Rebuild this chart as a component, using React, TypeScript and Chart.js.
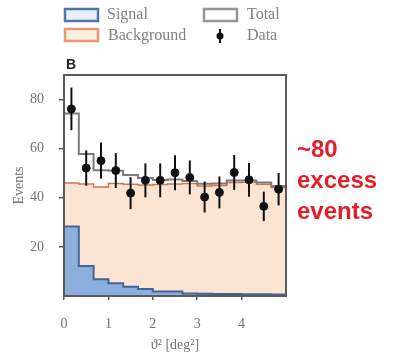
import React, { useEffect, useRef } from "react";
import { Chart, registerables } from "chart.js";

Chart.register(...registerables);

// Histogram binning in theta^2 (deg^2)
const BIN_WIDTH = 1 / 3;
const X_MAX = 5;

// Expected signal counts per bin
const signalCounts = [28.3, 12.2, 6.8, 5.2, 3.8, 2.9, 1.8, 1.8, 1.0, 0.9, 0.8, 0.8, 0.7, 0.7, 0.6];
// Expected background counts per bin
const backgroundCounts = [46.0, 45.6, 44.4, 45.8, 45.5, 45.2, 45.4, 45.6, 45.8, 44.8, 45.0, 46.2, 46.3, 45.5, 44.2];
// Total model (signal + background) per bin
const totalCounts = [74.3, 57.8, 51.2, 51.0, 49.3, 48.1, 47.2, 47.4, 46.8, 45.7, 45.8, 47.0, 47.0, 46.2, 44.8];
// Observed events and their uncertainties
const dataCounts = [76.2, 52.1, 55.1, 51.1, 41.9, 47.1, 47.1, 50.2, 48.3, 40.3, 42.2, 50.3, 47.3, 36.5, 43.5];
const dataErrors = [8.7, 7.2, 7.4, 7.1, 6.5, 6.9, 6.9, 7.1, 6.9, 6.3, 6.5, 7.1, 6.9, 6.0, 6.6];

const xTickLabels = ["0", "1", "2", "3", "4"];
const yTickValues = [20, 40, 60, 80];

const panelLabel = "B";
const annotationLines = ["~80", "excess", "events"];

const SERIF = '"Liberation Serif", "DejaVu Serif", serif';
const SANS = '"Liberation Sans", Arial, sans-serif';

// Step outline: one point at each bin's left edge plus the closing right edge;
// drawn with stepped "before" so each value is held across its own bin.
function toSteps(counts: number[]) {
  const pts = counts.map((v, i) => ({ x: i * BIN_WIDTH, y: v }));
  pts.push({ x: counts.length * BIN_WIDTH, y: counts[counts.length - 1] });
  return pts;
}

const overlayPlugin = {
  id: "overlay",
  afterDatasetsDraw(chart: any) {
    const { ctx, chartArea, scales } = chart;
    const xs = scales.x;
    const ys = scales.y;

    // error bars on observed data
    ctx.save();
    ctx.strokeStyle = "#111";
    ctx.lineWidth = 2;
    dataCounts.forEach((v, i) => {
      const px = xs.getPixelForValue((i + 0.5) * BIN_WIDTH);
      const top = ys.getPixelForValue(v + dataErrors[i]);
      const bot = ys.getPixelForValue(v - dataErrors[i]);
      ctx.beginPath();
      ctx.moveTo(px, top);
      ctx.lineTo(px, bot);
      ctx.stroke();
    });
    ctx.restore();

    // frame around the plotting area
    ctx.save();
    ctx.strokeStyle = "#5a5a5a";
    ctx.lineWidth = 2;
    ctx.strokeRect(
      chartArea.left,
      chartArea.top,
      chartArea.right - chartArea.left,
      chartArea.bottom - chartArea.top
    );
    ctx.restore();
  },
  afterDraw(chart: any) {
    const { ctx, chartArea } = chart;
    ctx.save();

    // legend
    const drawBox = (x: number, y: number, stroke: string, fill: string) => {
      ctx.fillStyle = fill;
      ctx.fillRect(x, y, 33, 12);
      ctx.strokeStyle = stroke;
      ctx.lineWidth = 2.5;
      ctx.strokeRect(x, y, 33, 12);
    };
    ctx.font = `16px ${SERIF}`;
    ctx.textBaseline = "middle";
    ctx.textAlign = "left";

    drawBox(65, 9, "#5276ab", "#e8f1fa");
    drawBox(65, 29, "#e69a72", "#fdeee3");
    drawBox(204, 9, "#959595", "#ffffff");

    ctx.fillStyle = "#808080";
    ctx.fillText("Signal", 107, 15);
    ctx.fillText("Background", 108, 36);
    ctx.fillText("Total", 247, 15);
    ctx.fillText("Data", 247, 36);

    // data marker in legend
    ctx.strokeStyle = "#111";
    ctx.lineWidth = 2;
    ctx.beginPath();
    ctx.moveTo(220, 29);
    ctx.lineTo(220, 43);
    ctx.stroke();
    ctx.fillStyle = "#111";
    ctx.beginPath();
    ctx.arc(220, 36, 3.5, 0, Math.PI * 2);
    ctx.fill();

    // panel label
    ctx.font = `bold 14px ${SANS}`;
    ctx.fillStyle = "#222";
    ctx.textBaseline = "bottom";
    ctx.fillText(panelLabel, chartArea.left + 2, chartArea.top - 3);

    // excess annotation
    ctx.font = `bold 24px ${SANS}`;
    ctx.fillStyle = "#e41e26";
    ctx.textBaseline = "middle";
    const ys = [150, 181, 212];
    annotationLines.forEach((t, i) => ctx.fillText(t, 297, ys[i]));

    ctx.restore();
  },
};

export default function App() {
  const canvasRef = useRef<HTMLCanvasElement | null>(null);

  useEffect(() => {
    if (!canvasRef.current) return;
    const chart = new Chart(canvasRef.current, {
      type: "line",
      data: {
        datasets: [
          {
            label: "Data",
            data: dataCounts.map((v, i) => ({ x: (i + 0.5) * BIN_WIDTH, y: v })),
            showLine: false,
            pointRadius: 4,
            pointBackgroundColor: "#111",
            pointBorderColor: "#111",
            order: 0,
          },
          {
            label: "Total",
            data: toSteps(totalCounts),
            stepped: "before",
            borderColor: "#7b7b7b",
            borderWidth: 2,
            pointRadius: 0,
            fill: false,
            order: 1,
          },
          {
            label: "Signal",
            data: toSteps(signalCounts),
            stepped: "before",
            borderColor: "#42639c",
            borderWidth: 2,
            backgroundColor: "#8cafdc",
            pointRadius: 0,
            fill: "origin",
            order: 2,
          },
          {
            label: "Background",
            data: toSteps(backgroundCounts),
            stepped: "before",
            borderColor: "#d8704e",
            borderWidth: 1.5,
            backgroundColor: "#fbe4d2",
            pointRadius: 0,
            fill: "origin",
            order: 3,
          },
        ],
      },
      options: {
        responsive: false,
        animation: false,
        layout: { padding: { top: 75, right: 108, left: 0, bottom: 0 } },
        plugins: {
          legend: { display: false },
          tooltip: { enabled: false },
          title: { display: false },
        },
        scales: {
          x: {
            type: "linear",
            min: 0,
            max: X_MAX,
            border: { display: false },
            grid: { drawOnChartArea: false, tickLength: 4, tickColor: "#5a5a5a", lineWidth: 1.5 },
            afterBuildTicks: (scale: any) => {
              scale.ticks = xTickLabels.map((t) => ({ value: Number(t) }));
            },
            ticks: {
              padding: 16,
              color: "#747474",
              font: { family: SERIF, size: 14 },
              callback: (v: any) => String(v),
            },
            title: {
              display: true,
              text: "ϑ² [deg²]",
              color: "#747474",
              font: { family: SERIF, size: 14 },
              padding: { top: 0, bottom: 5 },
            },
            afterFit: (scale: any) => {
              scale.height = 63;
            },
          },
          y: {
            type: "linear",
            min: 0,
            max: 90,
            border: { display: false },
            grid: { drawOnChartArea: false, tickLength: 5, tickColor: "#5a5a5a", lineWidth: 1.5 },
            afterBuildTicks: (scale: any) => {
              scale.ticks = yTickValues.map((v) => ({ value: v }));
            },
            ticks: {
              padding: 15,
              color: "#747474",
              font: { family: SERIF, size: 14 },
            },
            title: {
              display: true,
              text: "Events",
              color: "#747474",
              font: { family: SERIF, size: 14 },
              padding: { top: 11, bottom: 0 },
            },
            afterFit: (scale: any) => {
              scale.width = 64;
            },
          },
        },
      },
      plugins: [overlayPlugin],
    } as any);
    return () => chart.destroy();
  }, []);

  return (
    <div style={{ position: "fixed", left: 0, top: 0, width: 394, height: 359, background: "#fff" }}>
      <canvas ref={canvasRef} width={394} height={359} style={{ display: "block" }} />
    </div>
  );
}
